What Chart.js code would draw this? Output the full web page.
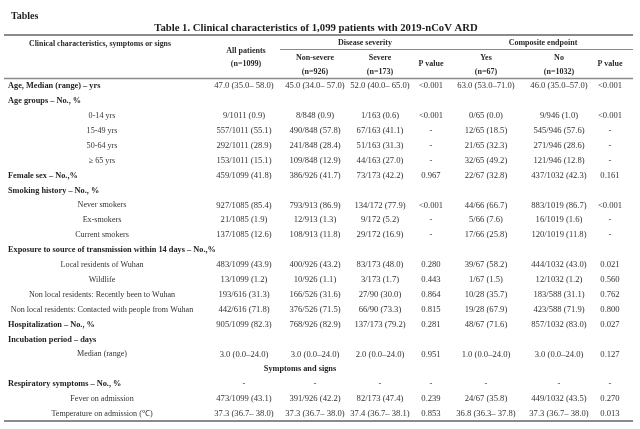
<!DOCTYPE html>
<html>
<head>
<meta charset="utf-8">
<script src="https://cdn.jsdelivr.net/npm/chart.js@4/dist/chart.umd.min.js"></script>
<style>
  html, body { margin: 0; padding: 0; background: #fff; }
  canvas { display: block; }
</style>
</head>
<body>
<canvas id="table1" width="640" height="429"></canvas>
<script>
// Table content
const rowLabels = [
    'Age, Median (range) – yrs',
    'Age groups – No., %',
    '0-14 yrs',
    '15-49 yrs',
    '50-64 yrs',
    '≥ 65 yrs',
    'Female sex – No.,%',
    'Smoking history – No., %',
    'Never smokers',
    'Ex-smokers',
    'Current smokers',
    'Exposure to source of transmission within 14 days – No.,%',
    'Local residents of Wuhan',
    'Wildlife',
    'Non local residents: Recently been to Wuhan',
    'Non local residents: Contacted with people from Wuhan',
    'Hospitalization – No., %',
    'Incubation period – days',
    'Median (range)',
    'Symptoms and signs',
    'Respiratory symptoms – No., %',
    'Fever on admission',
    'Temperature on admission (℃)'
];

// rows printed in bold at the left edge
const headingRows = [
    'Age, Median (range) – yrs',
    'Age groups – No., %',
    'Female sex – No.,%',
    'Smoking history – No., %',
    'Exposure to source of transmission within 14 days – No.,%',
    'Hospitalization – No., %',
    'Incubation period – days',
    'Respiratory symptoms – No., %'
];
// rows spanning the whole table
const spanRows = ['Symptoms and signs'];

const allPatients = ['47.0 (35.0– 58.0)', '', '9/1011 (0.9)', '557/1011 (55.1)', '292/1011 (28.9)', '153/1011 (15.1)',
    '459/1099 (41.8)', '', '927/1085 (85.4)', '21/1085 (1.9)', '137/1085 (12.6)', '',
    '483/1099 (43.9)', '13/1099 (1.2)', '193/616 (31.3)', '442/616 (71.8)', '905/1099 (82.3)', '',
    '3.0 (0.0–24.0)', '', '-', '473/1099 (43.1)', '37.3 (36.7– 38.0)'];
const nonSevere = ['45.0 (34.0– 57.0)', '', '8/848 (0.9)', '490/848 (57.8)', '241/848 (28.4)', '109/848 (12.9)',
    '386/926 (41.7)', '', '793/913 (86.9)', '12/913 (1.3)', '108/913 (11.8)', '',
    '400/926 (43.2)', '10/926 (1.1)', '166/526 (31.6)', '376/526 (71.5)', '768/926 (82.9)', '',
    '3.0 (0.0–24.0)', '', '-', '391/926 (42.2)', '37.3 (36.7– 38.0)'];
const severe = ['52.0 (40.0– 65.0)', '', '1/163 (0.6)', '67/163 (41.1)', '51/163 (31.3)', '44/163 (27.0)',
    '73/173 (42.2)', '', '134/172 (77.9)', '9/172 (5.2)', '29/172 (16.9)', '',
    '83/173 (48.0)', '3/173 (1.7)', '27/90 (30.0)', '66/90 (73.3)', '137/173 (79.2)', '',
    '2.0 (0.0–24.0)', '', '-', '82/173 (47.4)', '37.4 (36.7– 38.1)'];
const pSeverity = ['<0.001', '', '<0.001', '-', '-', '-',
    '0.967', '', '<0.001', '-', '-', '',
    '0.280', '0.443', '0.864', '0.815', '0.281', '',
    '0.951', '', '-', '0.239', '0.853'];
const endpointYes = ['63.0 (53.0–71.0)', '', '0/65 (0.0)', '12/65 (18.5)', '21/65 (32.3)', '32/65 (49.2)',
    '22/67 (32.8)', '', '44/66 (66.7)', '5/66 (7.6)', '17/66 (25.8)', '',
    '39/67 (58.2)', '1/67 (1.5)', '10/28 (35.7)', '19/28 (67.9)', '48/67 (71.6)', '',
    '1.0 (0.0–24.0)', '', '-', '24/67 (35.8)', '36.8 (36.3– 37.8)'];
const endpointNo = ['46.0 (35.0–57.0)', '', '9/946 (1.0)', '545/946 (57.6)', '271/946 (28.6)', '121/946 (12.8)',
    '437/1032 (42.3)', '', '883/1019 (86.7)', '16/1019 (1.6)', '120/1019 (11.8)', '',
    '444/1032 (43.0)', '12/1032 (1.2)', '183/588 (31.1)', '423/588 (71.9)', '857/1032 (83.0)', '',
    '3.0 (0.0–24.0)', '', '-', '449/1032 (43.5)', '37.3 (36.7– 38.0)'];
const pEndpoint = ['<0.001', '', '<0.001', '-', '-', '-',
    '0.161', '', '<0.001', '-', '-', '',
    '0.021', '0.560', '0.762', '0.800', '0.027', '',
    '0.127', '', '-', '0.270', '0.013'];

const columns = [allPatients, nonSevere, severe, pSeverity, endpointYes, endpointNo, pEndpoint];

// layout (x units = canvas pixels)
const colX = [244, 315, 380, 431, 486, 559, 610];
const labelX = 8;
const subLabelX = 102;
const serif = '"Liberation Serif", "Times New Roman", serif';

const tableText = {
    id: 'tableText',
    afterDatasetsDraw(chart) {
        const ctx = chart.ctx;
        const yScale = chart.scales.y;
        ctx.save();
        ctx.textBaseline = 'middle';

        // title block
        ctx.fillStyle = '#1e1e1e';
        ctx.textAlign = 'left';
        ctx.font = 'bold 10px ' + serif;
        ctx.fillText('Tables', 11, 16);
        ctx.textAlign = 'center';
        ctx.font = 'bold 10.7px ' + serif;
        ctx.fillText('Table 1. Clinical characteristics of 1,099 patients with 2019-nCoV ARD', 316, 28);

        // rules
        ctx.strokeStyle = '#8a8a8a';
        ctx.lineWidth = 2;
        ctx.beginPath(); ctx.moveTo(4, 35); ctx.lineTo(633, 35); ctx.stroke();
        ctx.beginPath(); ctx.moveTo(4, 421); ctx.lineTo(633, 421); ctx.stroke();
        ctx.lineWidth = 1.5;
        ctx.beginPath(); ctx.moveTo(4, 78.5); ctx.lineTo(633, 78.5); ctx.stroke();
        ctx.lineWidth = 1;
        ctx.beginPath(); ctx.moveTo(280, 49.5); ctx.lineTo(633, 49.5); ctx.stroke();

        // column headers
        ctx.fillStyle = '#2a2a2a';
        ctx.font = 'bold 7.8px ' + serif;
        ctx.fillText('Clinical characteristics, symptoms or signs', 100, 44);
        ctx.font = 'bold 8px ' + serif;
        ctx.fillText('Disease severity', 365, 43);
        ctx.fillText('Composite endpoint', 543, 43);
        ctx.fillText('All patients', colX[0] + 2, 51);
        ctx.fillText('(n=1099)', colX[0] + 2, 64);
        const sub = [['Non-severe', '(n=926)'], ['Severe', '(n=173)'], null, ['Yes', '(n=67)'], ['No', '(n=1032)']];
        sub.forEach((s, i) => {
            if (!s) return;
            ctx.fillText(s[0], colX[i + 1], 58);
            ctx.fillText(s[1], colX[i + 1], 72);
        });
        ctx.fillText('P value', colX[3], 64);
        ctx.fillText('P value', colX[6], 64);

        // row labels
        rowLabels.forEach((label, i) => {
            const y = yScale.getPixelForValue(i);
            if (spanRows.includes(label)) {
                ctx.font = 'bold 8.3px ' + serif;
                ctx.textAlign = 'center';
                ctx.fillStyle = '#1e1e1e';
                ctx.fillText(label, 300, y);
            } else if (headingRows.includes(label)) {
                ctx.font = 'bold 8.3px ' + serif;
                ctx.textAlign = 'left';
                ctx.fillStyle = '#1e1e1e';
                ctx.fillText(label, labelX, y);
            } else {
                ctx.font = '8.1px ' + serif;
                ctx.textAlign = 'center';
                ctx.fillStyle = '#333';
                ctx.fillText(label, subLabelX, y);
            }
        });

        // cells, placed at each point the scales computed
        ctx.font = '8.6px ' + serif;
        ctx.textAlign = 'center';
        ctx.fillStyle = '#333';
        chart.data.datasets.forEach((ds, di) => {
            chart.getDatasetMeta(di).data.forEach((pt, j) => {
                const txt = ds.cells[j];
                if (txt) ctx.fillText(txt, pt.x, pt.y);
            });
        });
        ctx.restore();
    }
};

new Chart(document.getElementById('table1'), {
    type: 'scatter',
    data: {
        datasets: columns.map((col, ci) => ({
            label: 'col' + ci,
            cells: col,
            data: col.map((v, j) => ({ x: colX[ci], y: j })),
            pointRadius: 0,
            pointHoverRadius: 0,
            showLine: false
        }))
    },
    options: {
        responsive: false,
        animation: false,
        devicePixelRatio: 1,
        events: [],
        layout: { padding: { top: 86, bottom: 15, left: 0, right: 0 } },
        plugins: { legend: { display: false }, tooltip: { enabled: false } },
        scales: {
            x: { type: 'linear', min: 0, max: 640, display: false },
            y: { type: 'category', labels: rowLabels, offset: false, display: false }
        }
    },
    plugins: [tableText]
});
</script>
</body>
</html>
